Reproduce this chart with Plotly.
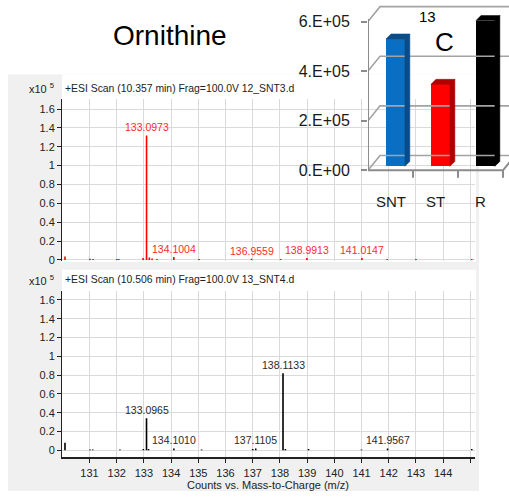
import plotly.graph_objects as go

W, H = 509, 497

# ---------------- data ----------------
top_mz = [130.10, 131.02, 131.13, 132.01, 132.08, 132.97, 133.0973, 133.20, 133.30, 133.48,
          134.1004, 135.03, 136.9559, 138.03, 138.9913, 141.0147, 141.94, 143.00, 145.05]
top_int = [0.035, 0.012, 0.010, 0.010, 0.008, 0.020, 1.32, 0.025, 0.015, 0.010,
           0.030, 0.010, 0.012, 0.010, 0.020, 0.020, 0.010, 0.008, 0.010]
top_labels = ["133.0973", "134.1004", "136.9559", "138.9913", "141.0147"]

bot_mz = [130.10, 131.02, 131.12, 132.12, 132.98, 133.0965, 133.17, 134.1010, 135.12,
          137.00, 137.1105, 138.1133, 138.20, 139.05, 141.00, 141.9567, 145.05]
bot_int = [0.08, 0.010, 0.010, 0.008, 0.015, 0.34, 0.015, 0.020, 0.010,
           0.015, 0.020, 0.82, 0.015, 0.015, 0.010, 0.020, 0.015]
bot_labels = ["133.0965", "134.1010", "137.1105", "138.1133", "141.9567"]

mz_ticks = list(range(131, 146))
mz_tick_text = [str(t) if t < 145 else " " for t in mz_ticks]
int_ticks = [0, 0.2, 0.4, 0.6, 0.8, 1.0, 1.2, 1.4, 1.6]

bar_cats = ["SNT", "ST", "R"]
bar_vals = [5.14e5, 3.31e5, 5.88e5]
bar_ticks = [0, 2e5, 4e5, 6e5]
bar_tick_text = ["0.E+00", "2.E+05", "4.E+05", "6.E+05"]

title_top = "+ESI Scan (10.357 min) Frag=100.0V 12_SNT3.d"
title_bot = "+ESI Scan (10.506 min) Frag=100.0V 13_SNT4.d"
x_title = "Counts vs. Mass-to-Charge (m/z)"

# ---------------- helpers ----------------
def px(x):
    return x / W

def py(y):
    return 1 - y / H

FONT = "Liberation Sans, Arial, sans-serif"

def sticks(mz, inten):
    xs, ys = [], []
    for m, h in zip(mz, inten):
        xs += [m, m, None]
        ys += [0, h, None]
    return xs, ys

fig = go.Figure()

# ---------------- spectra ----------------
xs, ys = sticks(top_mz, top_int)
fig.add_trace(go.Scatter(x=xs, y=ys, mode="lines", line=dict(color="#ff0000", width=1.6),
                         xaxis="x", yaxis="y", showlegend=False, hoverinfo="skip"))
xs, ys = sticks(bot_mz, bot_int)
fig.add_trace(go.Scatter(x=xs, y=ys, mode="lines", line=dict(color="#000000", width=1.6),
                         xaxis="x2", yaxis="y2", showlegend=False, hoverinfo="skip"))

annotations = []
for lbl in top_labels:
    m = float(lbl)
    h = top_int[top_mz.index(m)]
    annotations.append(dict(x=m, y=h, xref="x", yref="y", text=lbl, showarrow=False,
                            yanchor="bottom", font=dict(family=FONT, size=10.5, color="#ff2a2a")))
for lbl in bot_labels:
    m = float(lbl)
    h = bot_int[bot_mz.index(m)]
    annotations.append(dict(x=m, y=h, xref="x2", yref="y2", text=lbl, showarrow=False,
                            yanchor="bottom", font=dict(family=FONT, size=10.5, color="#2a2a2a")))

for ty, t in [(89, title_top), (282, title_bot)]:
    annotations.append(dict(x=px(63), y=py(ty), xref="paper", yref="paper", text=t,
                            showarrow=False, xanchor="left", yanchor="middle",
                            font=dict(family=FONT, size=10.4, color="#222222")))
    annotations.append(dict(x=px(27), y=py(ty), xref="paper", yref="paper", text="x10 <sup>5</sup>",
                            showarrow=False, xanchor="left", yanchor="middle",
                            font=dict(family=FONT, size=11, color="#222222")))

annotations.append(dict(x=px(268), y=py(488.5), xref="paper", yref="paper", text=x_title,
                        showarrow=False, xanchor="center", yanchor="middle", borderpad=0,
                        font=dict(family=FONT, size=11, color="#222222")))
annotations.append(dict(x=px(170), y=py(36), xref="paper", yref="paper", text="Ornithine",
                        showarrow=False, xanchor="center", yanchor="middle",
                        font=dict(family=FONT, size=28, color="#000000")))

# ---------------- inset 3D bar chart ----------------
BASE = 0.16e5      # bars sit slightly behind the front floor edge
BW, BOFF = 0.42, -0.10
BDX, BDY = 0.11, 0.2e5   # bar depth
WDX, WDY = 0.267, 0.6e5  # wall depth
XR = [-0.5, 2.633]
front_cols = ["#0a6fc2", "#ff0000", "#000000"]
dark_cols = ["#0b4c86", "#b00000", "#000000"]

# back wall gridlines
wx, wy = [], []
for t in bar_ticks:
    wx += [XR[0], XR[0] + WDX, XR[1] + 1, None]
    wy += [t, t + WDY, t + WDY, None]
fig.add_trace(go.Scatter(x=wx, y=wy, mode="lines", line=dict(color="#a3a3a3", width=1.6),
                         xaxis="x3", yaxis="y3", showlegend=False, hoverinfo="skip"))
# front axis & floor with category boundary ticks
n = len(bar_cats)
fx = [XR[0], XR[0], None, XR[0], n - 0.5, n - 0.5 + WDX, None]
fy = [0, bar_ticks[-1] + 0.1e5, None, 0, 0, WDY, None]
for b in range(n):
    fx += [b + 0.5, b + 0.5, None]
    fy += [0, -0.3e5, None]
fig.add_trace(go.Scatter(x=fx, y=fy, mode="lines", line=dict(color="#8c8c8c", width=2),
                         xaxis="x3", yaxis="y3", showlegend=False, hoverinfo="skip"))

fig.add_trace(go.Bar(x=list(range(n)), y=bar_vals, base=BASE, width=BW, offset=BOFF,
                     marker=dict(color=front_cols, line=dict(width=0)),
                     xaxis="x3", yaxis="y3", showlegend=False, hoverinfo="skip"))
for i, v in enumerate(bar_vals):
    xl = i + BOFF
    xr = xl + BW
    top = BASE + v
    px_ = [xl, xr, xr + BDX, xl + BDX, xl, None, xr, xr, xr + BDX, xr + BDX, xr]
    py_ = [top, top, top + BDY, top + BDY, top, None, BASE, top, top + BDY, BASE + BDY, BASE]
    fig.add_trace(go.Scatter(x=px_, y=py_, mode="lines", fill="toself", fillcolor=dark_cols[i],
                             line=dict(color=dark_cols[i], width=0.5),
                             xaxis="x3", yaxis="y3", showlegend=False, hoverinfo="skip"))

for i, c in enumerate(bar_cats):
    annotations.append(dict(x=i, y=py(203), xref="x3", yref="paper", text=c, showarrow=False,
                            xanchor="center", yanchor="middle",
                            font=dict(family=FONT, size=15, color="#1a1a1a")))
annotations.append(dict(x=px(427), y=py(17), xref="paper", yref="paper", text="13", showarrow=False,
                        xanchor="center", yanchor="middle",
                        font=dict(family=FONT, size=15, color="#000000")))
annotations.append(dict(x=px(444), y=py(42), xref="paper", yref="paper", text="C", showarrow=False,
                        xanchor="center", yanchor="middle",
                        font=dict(family=FONT, size=26, color="#000000")))

# ---------------- shapes (panel backgrounds) ----------------
shapes = [
    dict(type="rect", xref="paper", yref="paper", x0=px(8), x1=px(479), y0=py(495), y1=py(75),
         fillcolor="#f0f0f0", line=dict(width=0), layer="below"),
    dict(type="rect", xref="paper", yref="paper", x0=px(62), x1=px(476), y0=py(264), y1=py(75),
         fillcolor="#ffffff", line=dict(width=0), layer="below"),
    dict(type="rect", xref="paper", yref="paper", x0=px(62), x1=px(476), y0=py(461), y1=py(272),
         fillcolor="#ffffff", line=dict(width=0), layer="below"),
]

GRID = "#dadada"
XDOM = [px(62), px(475)]
XRANGE = [129.99, 145.17]
tickfont = dict(family=FONT, size=11, color="#222222")

fig.update_layout(
    width=W, height=H, margin=dict(l=0, r=0, t=0, b=0),
    paper_bgcolor="#ffffff", plot_bgcolor="rgba(0,0,0,0)",
    showlegend=False, bargap=0,
    annotations=annotations, shapes=shapes,
    xaxis=dict(domain=XDOM, range=XRANGE, anchor="y", tickvals=mz_ticks, showgrid=True,
               gridcolor=GRID, showticklabels=False, ticks="", showline=False, zeroline=False),
    yaxis=dict(domain=[py(263.5), py(100)], range=[-0.016, 1.705], anchor="x", tickvals=int_ticks,
               ticks="outside", ticklen=4, tickcolor="#222222", showline=True, linecolor="#222222",
               linewidth=1, showgrid=True, gridcolor=GRID, zeroline=False, tickfont=tickfont),
    xaxis2=dict(domain=XDOM, range=XRANGE, anchor="y2", tickvals=mz_ticks, ticktext=mz_tick_text,
                showgrid=True, gridcolor=GRID, ticks="outside", ticklen=4, tickcolor="#222222",
                ticklabelstandoff=1,
                showline=True, linecolor="#222222", linewidth=1.5, zeroline=False, tickfont=tickfont),
    yaxis2=dict(domain=[py(461), py(293)], range=[-0.074, 1.698], anchor="x2", tickvals=int_ticks,
                ticks="outside", ticklen=4, tickcolor="#222222", showline=True, linecolor="#222222",
                linewidth=1, showgrid=True, gridcolor=GRID, zeroline=False, tickfont=tickfont),
    xaxis3=dict(domain=[px(368), 1.0], range=XR, anchor="y3", showgrid=False, zeroline=False,
                showline=False, showticklabels=False, ticks=""),
    yaxis3=dict(domain=[py(180), py(5)], range=[-0.332e5, 6.668e5], anchor="x3",
                tickvals=bar_ticks, ticktext=bar_tick_text, ticks="outside", ticklen=6,
                tickwidth=2, tickcolor="#8c8c8c", showgrid=False, zeroline=False, showline=False,
                ticklabelstandoff=8, tickfont=dict(family=FONT, size=16, color="#1a1a1a")),
)

fig.write_html("out.html")
